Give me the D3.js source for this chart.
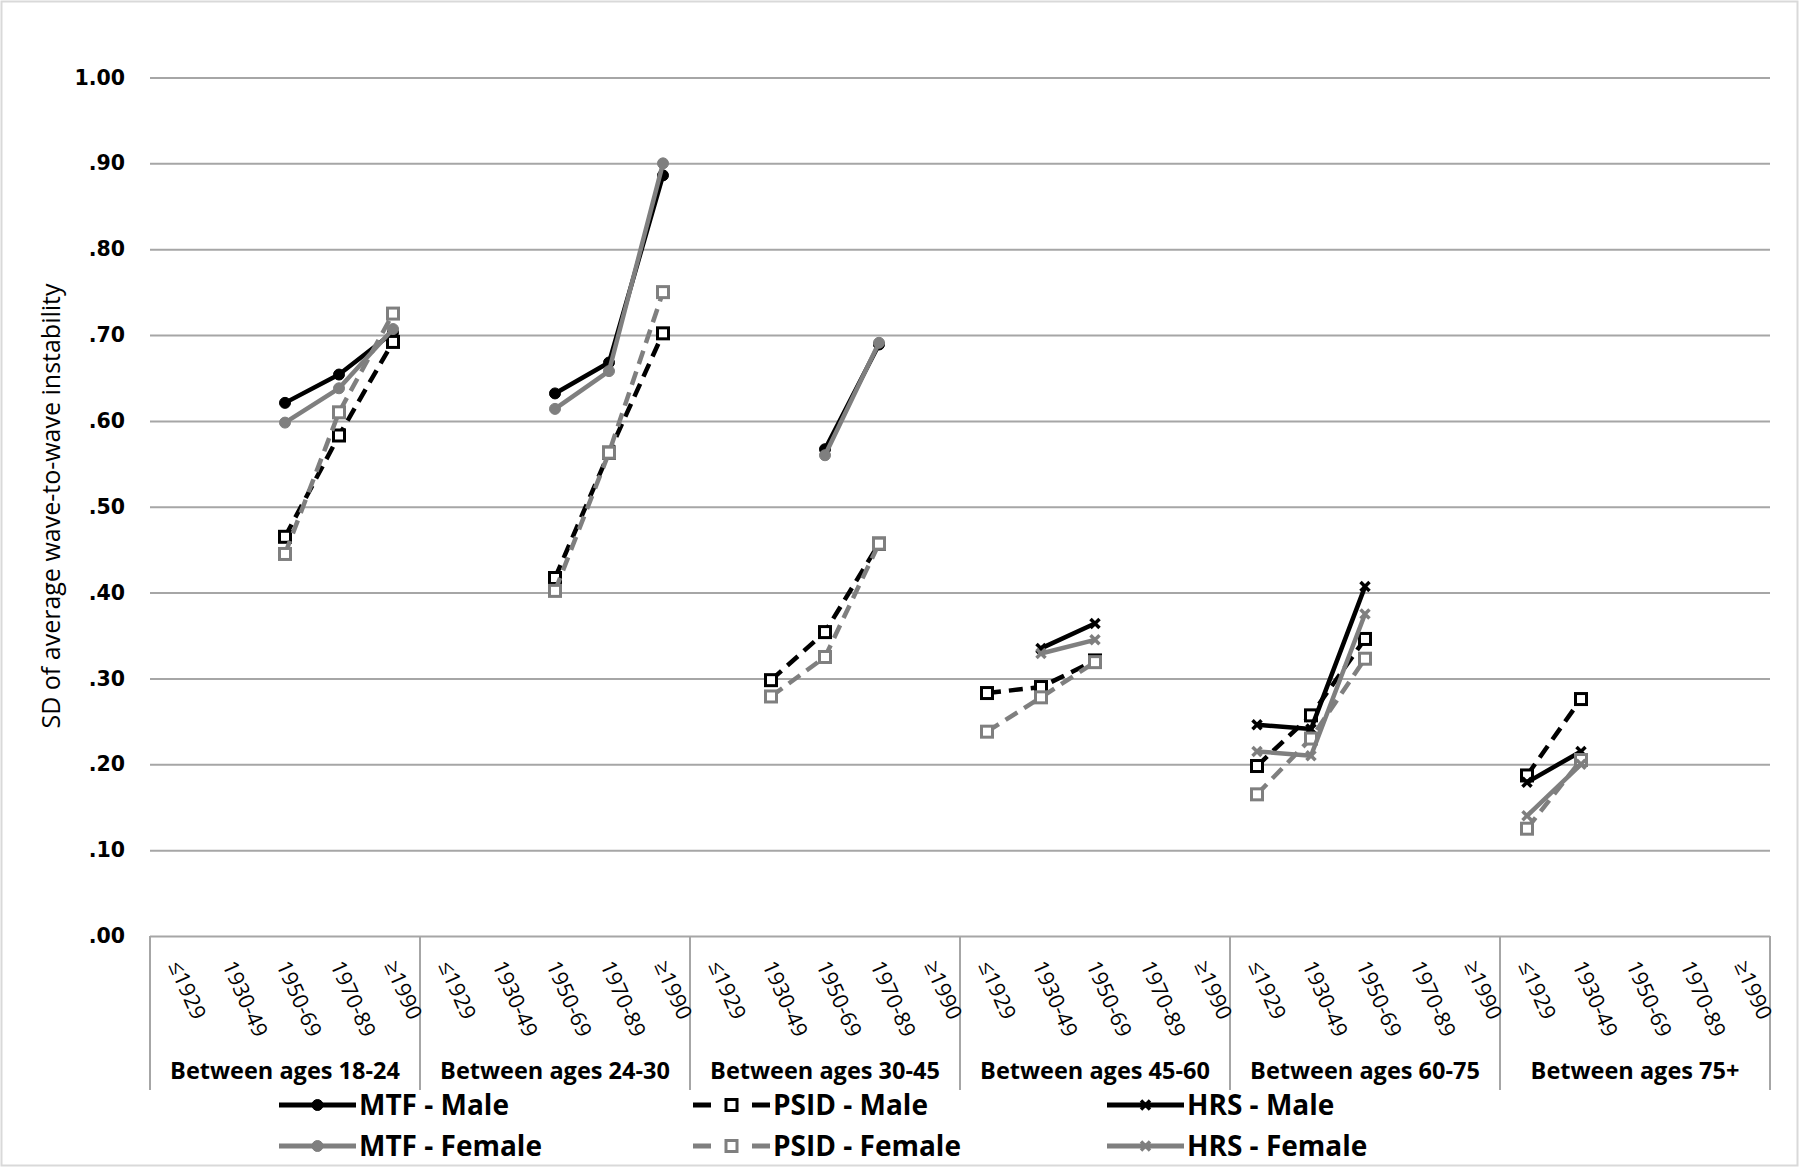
<!DOCTYPE html>
<html>
<head>
<meta charset="utf-8">
<script src="https://cdn.jsdelivr.net/npm/d3@7"></script>
<style>
  html, body { margin: 0; padding: 0; background: #fff; }
  svg { display: block; }
</style>
</head>
<body>
<svg id="chart" width="1800" height="1168"></svg>
<script>
// ---------------- DATA ----------------
const cohorts = ["≤1929", "1930-49", "1950-69", "1970-89", "≥1990"];
const ageGroups = ["Between ages 18-24", "Between ages 24-30", "Between ages 30-45",
                   "Between ages 45-60", "Between ages 60-75", "Between ages 75+"];
const yTicks = [0, 0.1, 0.2, 0.3, 0.4, 0.5, 0.6, 0.7, 0.8, 0.9, 1.0];
const yTickLabels = [".00", ".10", ".20", ".30", ".40", ".50", ".60", ".70", ".80", ".90", "1.00"];
const yTitle = "SD of average wave-to-wave instability";

// values per age group (5 cohorts each); null = not observed
const mtfMale = [
  null, null, 0.621, 0.654, 0.703,
  null, null, 0.632, 0.668, 0.886,
  null, null, 0.567, 0.689, null,
  null, null, null, null, null,
  null, null, null, null, null,
  null, null, null, null, null];
const mtfFemale = [
  null, null, 0.598, 0.638, 0.707,
  null, null, 0.614, 0.658, 0.900,
  null, null, 0.560, 0.691, null,
  null, null, null, null, null,
  null, null, null, null, null,
  null, null, null, null, null];
const psidMale = [
  null, null, 0.465, 0.583, 0.692,
  null, null, 0.417, 0.563, 0.702,
  null, 0.298, 0.354, 0.457, null,
  0.283, 0.290, 0.321, null, null,
  0.198, 0.257, 0.346, null, null,
  0.187, 0.276, null, null, null];
const psidFemale = [
  null, null, 0.445, 0.610, 0.725,
  null, null, 0.402, 0.563, 0.750,
  null, 0.279, 0.325, 0.457, null,
  0.238, 0.278, 0.319, null, null,
  0.165, 0.230, 0.323, null, null,
  0.125, 0.205, null, null, null];
const hrsMale = [
  null, null, null, null, null,
  null, null, null, null, null,
  null, null, null, null, null,
  null, 0.335, 0.364, null, null,
  0.246, 0.241, 0.407, null, null,
  0.179, 0.215, null, null, null];
const hrsFemale = [
  null, null, null, null, null,
  null, null, null, null, null,
  null, null, null, null, null,
  null, 0.329, 0.345, null, null,
  0.215, 0.210, 0.375, null, null,
  0.140, 0.200, null, null, null];

const seriesNames = ["MTF - Male", "PSID - Male", "HRS - Male", "MTF - Female", "PSID - Female", "HRS - Female"];
const seriesValues = [mtfMale, psidMale, hrsMale, mtfFemale, psidFemale, hrsFemale];

// ---------------- STYLE ----------------
const BLACK = "#000000", GRAY = "#7f7f7f", GRID = "#a6a6a6";
const styleOf = name => {
  const female = name.includes("Female");
  const kind = name.split(" ")[0];
  return {
    color: female ? GRAY : BLACK,
    dashed: kind === "PSID",
    marker: kind === "MTF" ? "circle" : (kind === "PSID" ? "square" : "x")
  };
};

// ---------------- LAYOUT ----------------
const svg = d3.select("#chart");
const plot = { left: 150, right: 1770, top: 77.5, bottom: 936 };

svg.append("rect").attr("x", 1.5).attr("y", 1.5).attr("width", 1796).attr("height", 1164)
  .attr("fill", "#fff").attr("stroke", "#d9d9d9").attr("stroke-width", 2);

const idx = d3.range(ageGroups.length * cohorts.length);
const x = d3.scaleBand().domain(idx).range([plot.left, plot.right]).padding(0);
const cx = i => x(i) + x.bandwidth() / 2;
const y = d3.scaleLinear().domain([0, 1]).range([plot.bottom, plot.top]);

// gridlines
const yAxis = d3.axisLeft(y).tickValues(yTicks).tickSize(-(plot.right - plot.left))
  .tickFormat((d, i) => yTickLabels[i]);
const gy = svg.append("g").attr("transform", `translate(${plot.left},0)`).call(yAxis);
gy.select(".domain").remove();
gy.selectAll(".tick line").attr("stroke", GRID).attr("stroke-width", 2);
gy.selectAll(".tick text")
  .attr("x", -25)
  .attr("font-family", "DejaVu Sans, Verdana, sans-serif")
  .attr("font-weight", "bold")
  .attr("font-size", 20.5)
  .attr("fill", "#000");

// y title
svg.append("text")
  .attr("transform", `translate(50,506) rotate(-90)`)
  .attr("text-anchor", "middle")
  .attr("dominant-baseline", "central")
  .attr("font-family", "Open Sans, sans-serif")
  .attr("font-size", 25)
  .attr("fill", "#000")
  .text(yTitle);

// category axis: group separators
const groupX = d3.scaleBand().domain(ageGroups).range([plot.left, plot.right]).padding(0);
const sepXs = ageGroups.map(g => groupX(g)).concat([plot.right]);
svg.append("g").selectAll("line").data(sepXs).join("line")
  .attr("x1", d => d).attr("x2", d => d)
  .attr("y1", plot.bottom).attr("y2", 1090)
  .attr("stroke", GRID).attr("stroke-width", 2);

// cohort tick labels (rotated)
svg.append("g").selectAll("text").data(idx).join("text")
  .attr("transform", i => `translate(${cx(i) - 9},965) rotate(66)`)
  .attr("text-anchor", "start")
  .attr("font-family", "Open Sans, sans-serif")
  .attr("font-size", 21.5)
  .attr("fill", "#000")
  .text(i => cohorts[i % cohorts.length]);

// group labels
svg.append("g").selectAll("text").data(ageGroups).join("text")
  .attr("x", g => groupX(g) + groupX.bandwidth() / 2)
  .attr("y", 1079)
  .attr("text-anchor", "middle")
  .attr("font-family", "Open Sans, sans-serif")
  .attr("font-weight", "bold")
  .attr("font-size", 23.5)
  .attr("fill", "#000")
  .text(g => g);

// ---------------- MARKERS ----------------
function drawMarker(g, kind, color, px, py) {
  if (kind === "circle") {
    g.append("circle").attr("cx", px).attr("cy", py).attr("r", 5.5)
      .attr("fill", color).attr("stroke", color).attr("stroke-width", 1);
  } else if (kind === "square") {
    g.append("rect").attr("x", px - 5.5).attr("y", py - 5.5).attr("width", 11).attr("height", 11)
      .attr("fill", "#fff").attr("stroke", color).attr("stroke-width", 3);
  } else {
    const s = 4.5;
    g.append("path").attr("d", `M${px - s},${py - s}L${px + s},${py + s}M${px - s},${py + s}L${px + s},${py - s}`)
      .attr("stroke", color).attr("stroke-width", 3.5).attr("fill", "none");
  }
}

// ---------------- SERIES ----------------
const line = d3.line().defined(d => d.v != null).x(d => cx(d.i)).y(d => y(d.v));
seriesNames.forEach((name, k) => {
  const st = styleOf(name);
  const pts = seriesValues[k].map((v, i) => ({ i, v }));
  const g = svg.append("g");
  g.append("path").datum(pts).attr("d", line)
    .attr("fill", "none").attr("stroke", st.color)
    .attr("stroke-width", 4.5)
    .attr("stroke-dasharray", st.dashed ? "14,8" : null)
    .attr("stroke-linejoin", "round");
  pts.filter(d => d.v != null).forEach(d => drawMarker(g, st.marker, st.color, cx(d.i), y(d.v)));
});

// ---------------- LEGEND ----------------
const legendOrder = ["MTF - Male", "PSID - Male", "HRS - Male", "MTF - Female", "PSID - Female", "HRS - Female"];
const legX = [279, 693, 1107];
const legY = [1105, 1146];
legendOrder.forEach((name, k) => {
  const st = styleOf(name);
  const lx = legX[k % 3], ly = legY[Math.floor(k / 3)];
  const g = svg.append("g");
  if (st.dashed) {
    g.append("line").attr("x1", lx).attr("x2", lx + 18).attr("y1", ly).attr("y2", ly)
      .attr("stroke", st.color).attr("stroke-width", 5);
    g.append("line").attr("x1", lx + 59).attr("x2", lx + 77).attr("y1", ly).attr("y2", ly)
      .attr("stroke", st.color).attr("stroke-width", 5);
  } else {
    g.append("line").attr("x1", lx).attr("x2", lx + 77).attr("y1", ly).attr("y2", ly)
      .attr("stroke", st.color).attr("stroke-width", 5);
  }
  drawMarker(g, st.marker, st.color, lx + 38.5, ly);
  g.append("text").attr("x", lx + 80).attr("y", ly + 10)
    .attr("font-family", "Open Sans, sans-serif")
    .attr("font-weight", "bold")
    .attr("font-size", 28)
    .attr("fill", "#000")
    .text(name);
});
</script>
</body>
</html>
